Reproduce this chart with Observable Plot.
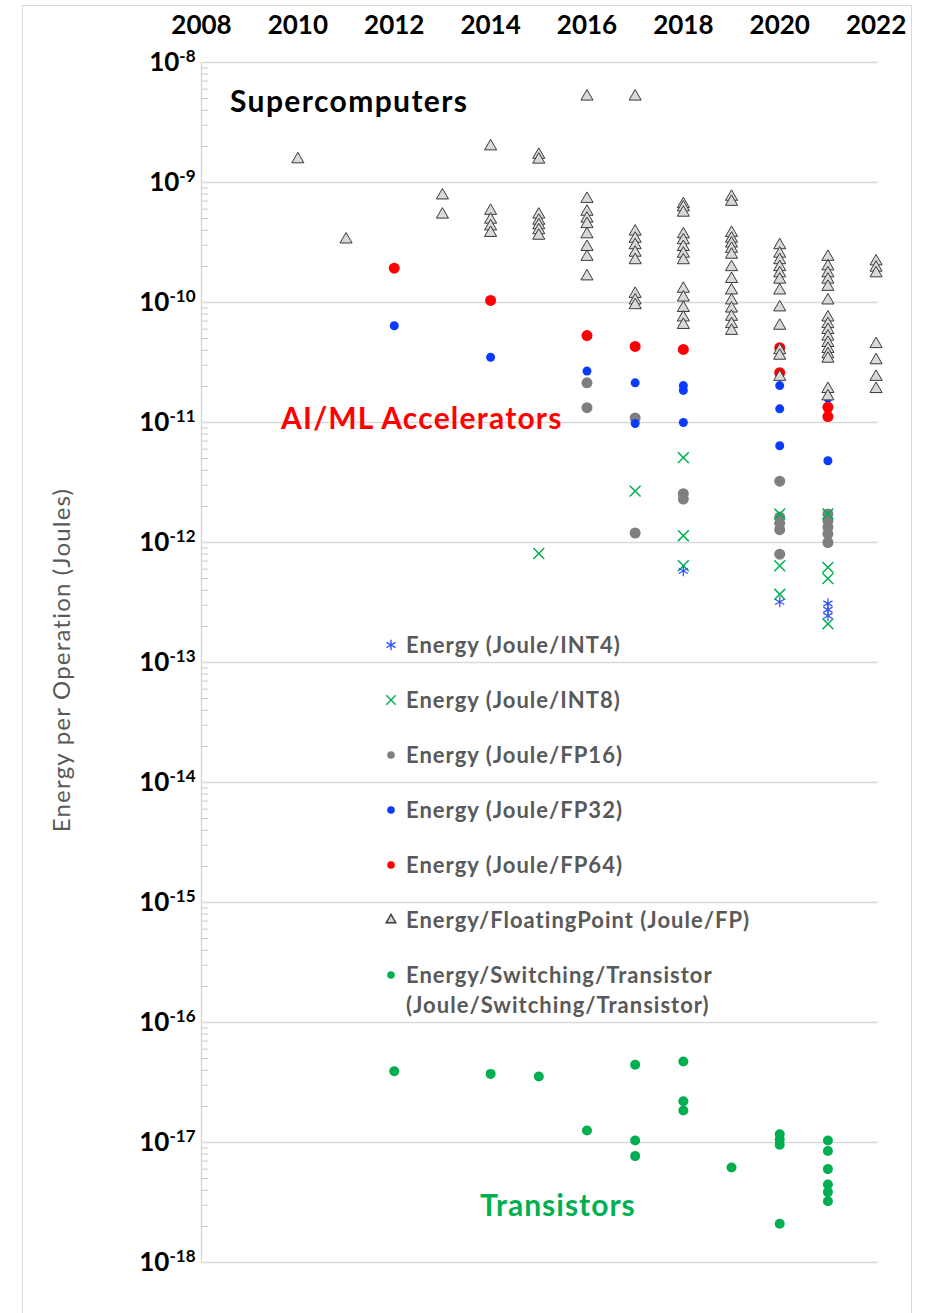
<!DOCTYPE html>
<html>
<head>
<meta charset="utf-8">
<script src="https://cdn.jsdelivr.net/npm/d3@7"></script>
<script src="https://cdn.jsdelivr.net/npm/@observablehq/plot@0.6"></script>
<style>
  body { margin: 0; background: #fff; font-family: Lato, "Open Sans", sans-serif; }
  #wrap { position: relative; width: 930px; height: 1313px; overflow: hidden; }
  #frame { position: absolute; left: 22px; top: 5px; width: 888px; height: 1340px; border: 1.5px solid #d9d9d9; }
  #chart { position: absolute; left: 0; top: 0; }
  .ann { position: absolute; font-weight: bold; line-height: 1; white-space: nowrap; }
  #ytitle { position: absolute; width: 420px; left: -149px; top: 647px; text-align: center; transform: rotate(-90deg);
            color: #595959; font-size: 24px; letter-spacing: 1.2px; line-height: 26px; white-space: nowrap; }
  .leg { position: absolute; left: 383px; display: flex; align-items: flex-start; color: #595959; font-size: 22px; font-weight: bold; letter-spacing: 1.0px; line-height: 30px; }
  .leg svg { flex: none; margin-top: 7px; }
  .leg span { margin-left: 7px; }
</style>
</head>
<body>
<div id="wrap">
  <div id="frame"></div>
  <div id="chart"></div>
</div>
<script>
// ---------- data (year, Joules) ----------
const yearTicks = [2008, 2010, 2012, 2014, 2016, 2018, 2020, 2022];
const yExponents = [-8, -9, -10, -11, -12, -13, -14, -15, -16, -17, -18];

const fpPerFlop = [ // Energy/FloatingPoint (Joule/FP) - supercomputers
  [2010, 1.56e-9],
  [2011, 3.35e-10],
  [2013, 7.8e-10], [2013, 5.4e-10],
  [2014, 2.0e-9], [2014, 5.8e-10], [2014, 4.9e-10], [2014, 4.3e-10], [2014, 3.8e-10],
  [2015, 1.7e-9], [2015, 1.55e-9], [2015, 5.4e-10], [2015, 4.8e-10], [2015, 4.4e-10], [2015, 4.0e-10], [2015, 3.6e-10],
  [2016, 5.2e-9], [2016, 7.3e-10], [2016, 5.7e-10], [2016, 5.0e-10], [2016, 4.5e-10], [2016, 3.7e-10], [2016, 2.9e-10], [2016, 2.4e-10], [2016, 1.65e-10],
  [2017, 5.2e-9], [2017, 3.9e-10], [2017, 3.4e-10], [2017, 3.0e-10], [2017, 2.6e-10], [2017, 2.25e-10], [2017, 1.18e-10], [2017, 1.04e-10], [2017, 9.5e-11],
  [2018, 6.6e-10], [2018, 6.2e-10], [2018, 5.6e-10], [2018, 3.7e-10], [2018, 3.3e-10], [2018, 2.9e-10], [2018, 2.55e-10], [2018, 2.25e-10],
  [2018, 1.3e-10], [2018, 1.1e-10], [2018, 9.0e-11], [2018, 7.5e-11], [2018, 6.5e-11],
  [2019, 7.6e-10], [2019, 6.9e-10], [2019, 3.8e-10], [2019, 3.4e-10], [2019, 3.1e-10], [2019, 2.8e-10], [2019, 2.5e-10], [2019, 1.97e-10],
  [2019, 1.57e-10], [2019, 1.26e-10], [2019, 1.04e-10], [2019, 8.9e-11], [2019, 7.6e-11], [2019, 6.6e-11], [2019, 5.8e-11],
  [2020, 3.0e-10], [2020, 2.55e-10], [2020, 2.25e-10], [2020, 1.97e-10], [2020, 1.75e-10], [2020, 1.55e-10], [2020, 1.26e-10],
  [2020, 9.1e-11], [2020, 6.4e-11], [2020, 4.0e-11], [2020, 3.6e-11], [2020, 2.4e-11],
  [2021, 2.4e-10], [2021, 2.0e-10], [2021, 1.75e-10], [2021, 1.55e-10], [2021, 1.35e-10], [2021, 1.04e-10], [2021, 7.5e-11], [2021, 6.6e-11],
  [2021, 5.9e-11], [2021, 5.2e-11], [2021, 4.6e-11], [2021, 4.1e-11], [2021, 3.7e-11], [2021, 3.4e-11], [2021, 1.9e-11], [2021, 1.65e-11],
  [2022, 2.2e-10], [2022, 1.95e-10], [2022, 1.75e-10], [2022, 4.5e-11], [2022, 3.3e-11], [2022, 2.4e-11], [2022, 1.9e-11]
];
const fp64 = [
  [2012, 1.93e-10], [2014, 1.04e-10], [2016, 5.3e-11], [2017, 4.3e-11], [2018, 4.06e-11],
  [2020, 4.2e-11], [2020, 2.6e-11], [2021, 1.34e-11], [2021, 1.12e-11]
];
const fp32 = [
  [2012, 6.4e-11], [2014, 3.5e-11], [2016, 2.68e-11], [2017, 2.14e-11], [2017, 9.8e-12],
  [2018, 2.03e-11], [2018, 1.85e-11], [2018, 1.0e-11], [2020, 2.03e-11], [2020, 1.3e-11], [2020, 6.4e-12],
  [2021, 1.6e-11], [2021, 4.8e-12]
];
const fp16 = [
  [2016, 2.14e-11], [2016, 1.33e-11], [2017, 1.09e-11], [2017, 1.2e-12], [2018, 2.55e-12], [2018, 2.3e-12],
  [2020, 3.24e-12], [2020, 1.63e-12], [2020, 1.45e-12], [2020, 1.28e-12], [2020, 8.0e-13],
  [2021, 1.73e-12], [2021, 1.52e-12], [2021, 1.34e-12], [2021, 1.18e-12], [2021, 1.0e-12]
];
const int8 = [
  [2015, 8.1e-13], [2017, 2.68e-12], [2018, 5.1e-12], [2018, 1.14e-12], [2018, 6.4e-13],
  [2020, 1.73e-12], [2020, 6.4e-13], [2020, 3.7e-13], [2021, 1.73e-12], [2021, 6.2e-13], [2021, 5.0e-13], [2021, 2.1e-13]
];
const int4 = [
  [2018, 5.8e-13], [2020, 3.2e-13], [2021, 3.1e-13], [2021, 2.75e-13], [2021, 2.45e-13]
];
const transistor = [
  [2012, 3.93e-17], [2014, 3.73e-17], [2015, 3.55e-17], [2016, 1.26e-17],
  [2017, 4.44e-17], [2017, 1.04e-17], [2017, 7.7e-18],
  [2018, 4.73e-17], [2018, 2.21e-17], [2018, 1.85e-17], [2019, 6.2e-18],
  [2020, 1.17e-17], [2020, 1.06e-17], [2020, 9.6e-18], [2020, 2.1e-18],
  [2021, 1.04e-17], [2021, 8.5e-18], [2021, 6.0e-18], [2021, 4.47e-18], [2021, 3.86e-18], [2021, 3.24e-18]
];

const legendLabels = [
  "Energy (Joule/INT4)",
  "Energy (Joule/INT8)",
  "Energy (Joule/FP16)",
  "Energy (Joule/FP32)",
  "Energy (Joule/FP64)",
  "Energy/FloatingPoint (Joule/FP)",
  "Energy/Switching/Transistor<br>(Joule/Switching/Transistor)"
];
const annotationLabels = ["Supercomputers", "AI/ML Accelerators", "Transistors"];
const yTitle = "Energy per Operation (Joules)";

// ---------- derived tables ----------
const rows = a => a.map(([year, value]) => ({year, value}));
const decadeVals = yExponents.map(e => Math.pow(10, e));
const minorVals = [];
yExponents.slice(1).forEach(e => { for (let m = 2; m <= 9; m++) minorVals.push(m * Math.pow(10, e)); });

const C = {
  int4: "#3355ff", int8: "#00b050", fp16: "#7f7f7f", fp32: "#0a3cff",
  fp64: "#ff0000", fpFill: "#d9d9d9", fpStroke: "#3a3a3a", trans: "#00b050"
};

const plot = Plot.plot({
  width: 930,
  height: 1313,
  marginLeft: 201,
  marginRight: 52,
  marginTop: 62,
  marginBottom: 51,
  style: { fontFamily: "Lato, 'Open Sans', sans-serif", background: "transparent", overflow: "visible" },
  x: { domain: [2008, 2022.05] },
  y: { type: "log", domain: [1e-18, 1e-8] },
  marks: [
    Plot.gridY(decadeVals, { stroke: "#d9d9d9", strokeOpacity: 1, strokeWidth: 1.5 }),
    Plot.ruleX([yearTicks[0]], { stroke: "#d9d9d9", strokeWidth: 1.5 }),
    Plot.axisY(minorVals, { tickSize: -7, tickFormat: () => "", stroke: "#c8c8c8", label: null }),
    Plot.axisY(decadeVals, { tickSize: 0, tickPadding: 6, label: null,
      tickFormat: d => "10|" + Math.round(Math.log10(d)),
      fontSize: 26, fontWeight: "bold", fill: "#000" }),
    Plot.axisX(yearTicks, { anchor: "top", tickSize: 0, tickPadding: 29, label: null,
      tickFormat: d => String(d), fontSize: 26, fontWeight: "bold", fill: "#000" }),
    Plot.dot(rows(transistor), { x: "year", y: "value", r: 5, fill: C.trans }),
    Plot.dot(rows(fp16), { x: "year", y: "value", r: 5.5, fill: C.fp16 }),
    Plot.dot(rows(fp32), { x: "year", y: "value", r: 4.5, fill: C.fp32 }),
    Plot.dot(rows(fp64), { x: "year", y: "value", r: 5.5, fill: C.fp64 }),
    Plot.dot(rows(int8), { x: "year", y: "value", symbol: "times", r: 5, stroke: C.int8, strokeWidth: 1.5 }),
    Plot.dot(rows(int4), { x: "year", y: "value", symbol: "asterisk", r: 5, stroke: C.int4, strokeWidth: 1.3 }),
    Plot.dot(rows(fpPerFlop), { x: "year", y: "value", symbol: "triangle", r: 4.5, fill: C.fpFill, stroke: C.fpStroke, strokeWidth: 1 })
  ]
});

// superscript exponents on y tick labels
plot.querySelectorAll("text").forEach(t => {
  const s = t.textContent;
  if (s.startsWith("10|")) {
    const exp = s.slice(3);
    t.textContent = "10";
    const ts = document.createElementNS("http://www.w3.org/2000/svg", "tspan");
    ts.setAttribute("dy", "-0.5em");
    ts.setAttribute("font-size", "17");
    ts.textContent = exp;
    t.appendChild(ts);
  }
});
document.getElementById("chart").appendChild(plot);

// ---------- annotations, axis title and legend (HTML overlay) ----------
const wrap = document.getElementById("wrap");
const annStyles = [
  { left: 230, top: 85, size: 30, spacing: 1.4, color: "#000" },
  { left: 281, top: 402, size: 30, spacing: 1.2, color: "#ff0000" },
  { left: 480, top: 1189, size: 30, spacing: 1.0, color: "#00b050" }
];
annotationLabels.forEach((lab, i) => {
  const d = document.createElement("div");
  d.className = "ann";
  d.textContent = lab;
  const s = annStyles[i];
  d.style.left = s.left + "px"; d.style.top = s.top + "px";
  d.style.fontSize = s.size + "px"; d.style.color = s.color;
  d.style.letterSpacing = s.spacing + "px";
  wrap.appendChild(d);
});
const yt = document.createElement("div");
yt.id = "ytitle"; yt.textContent = yTitle; wrap.appendChild(yt);

const legSym = [
  { symbol: d3.symbolAsterisk, size: 75, fill: "none", stroke: C.int4 },
  { symbol: d3.symbolTimes, size: 60, fill: "none", stroke: C.int8 },
  { symbol: d3.symbolCircle, size: 45, fill: C.fp16, stroke: "none" },
  { symbol: d3.symbolCircle, size: 45, fill: C.fp32, stroke: "none" },
  { symbol: d3.symbolCircle, size: 45, fill: C.fp64, stroke: "none" },
  { symbol: d3.symbolTriangle, size: 40, fill: C.fpFill, stroke: C.fpStroke },
  { symbol: d3.symbolCircle, size: 45, fill: C.trans, stroke: "none" }
];
const legTops = [630, 685, 740, 795, 850, 905, 960];
legendLabels.forEach((lab, i) => {
  const row = document.createElement("div");
  row.className = "leg";
  row.style.top = legTops[i] + "px";
  const s = legSym[i];
  const path = d3.symbol(s.symbol, s.size)();
  row.innerHTML = `<svg width="16" height="16" viewBox="-8 -8 16 16"><path d="${path}" fill="${s.fill}" stroke="${s.stroke}" stroke-width="1.4"/></svg><span>${lab}</span>`;
  wrap.appendChild(row);
});
</script>
</body>
</html>
